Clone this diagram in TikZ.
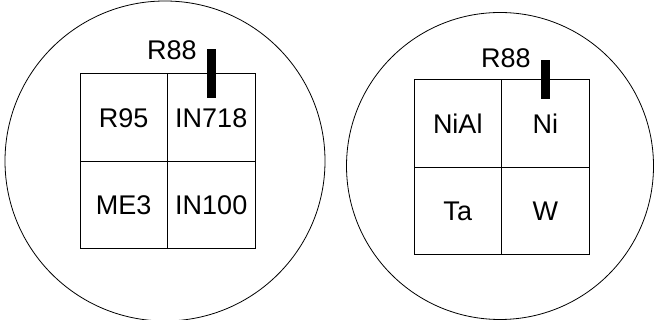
\documentclass[tikz,border=0pt]{standalone}
\usepackage{fontspec}
\setmainfont{Liberation Sans}
\usetikzlibrary{positioning}

\begin{document}
\begin{tikzpicture}[x=1pt,y=1pt,
  cell/.style={rectangle,draw,line width=1pt,outer sep=0pt,inner sep=0pt,minimum size=87.5pt,font=\fontsize{27}{32}\selectfont},
  disc/.style={circle,draw,line width=0.8pt,inner sep=0pt},
  bar/.style={rectangle,fill=black,inner sep=0pt,minimum width=9pt},
  tag/.style={inner sep=0pt,font=\fontsize{27}{32}\selectfont}]
\useasboundingbox (0,0) rectangle (655,320);

% left sample holder
\node[disc,minimum size=320pt] (discL) at (165,159) {};
\node[cell] (r95) at (123.75,202.25) {R95};
\node[cell,right=0pt of r95] (in718) {IN718};
\node[cell,below=0pt of r95] (me3) {ME3};
\node[cell,right=0pt of me3] (in100) {IN100};
\node[bar,minimum height=49pt] (barL) at (211.5,246.5) {};
\node[tag] (tagL) at (172,270) {R88};

% right sample holder
\node[disc,minimum size=307pt] (discR) at (500,154) {};
\node[cell] (nial) at (457.75,196.25) {NiAl};
\node[cell,right=0pt of nial] (ni) {Ni};
\node[cell,below=0pt of nial] (ta) {Ta};
\node[cell,right=0pt of ta] (w) {W};
\node[bar,minimum height=39pt] (barR) at (545.5,240.5) {};
\node[tag] (tagR) at (506,262) {R88};

\end{tikzpicture}
\end{document}
